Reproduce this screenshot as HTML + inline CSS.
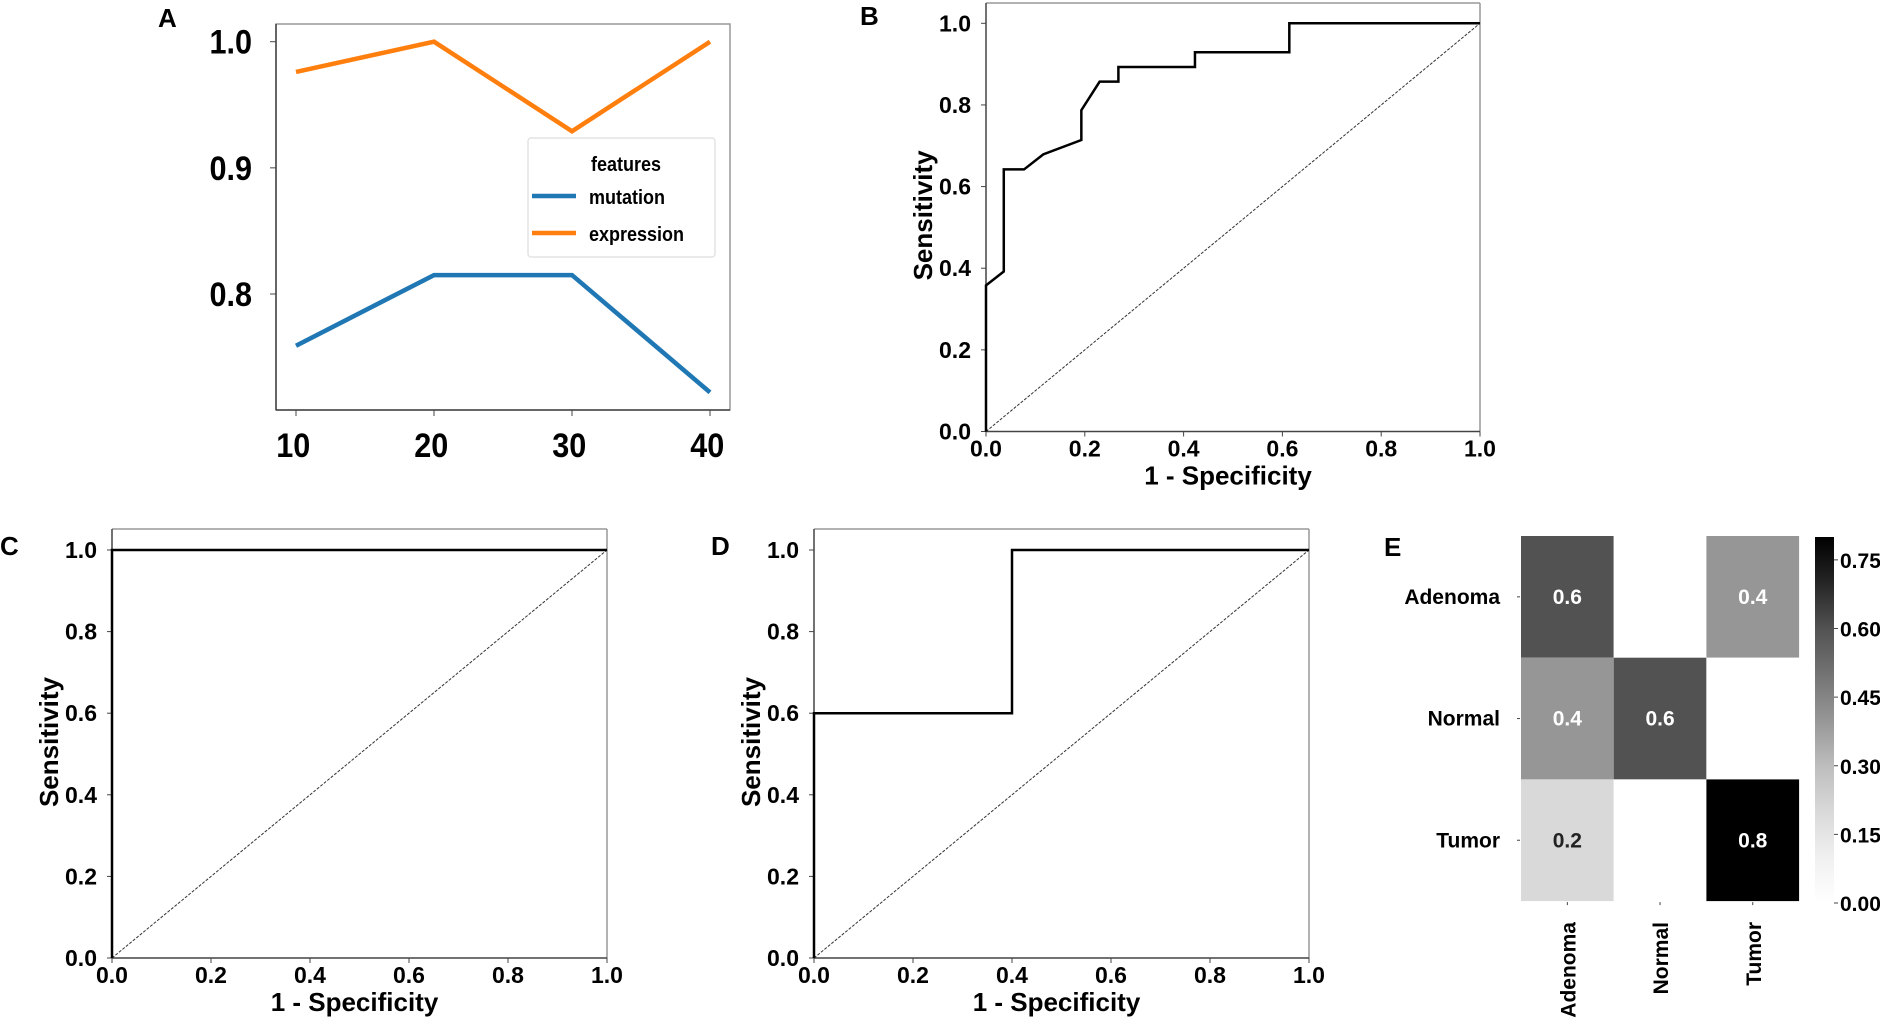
<!DOCTYPE html>
<html><head><meta charset="utf-8"><style>
html,body{margin:0;padding:0;background:#fff;}
svg{display:block;font-family:"Liberation Sans",Arial,sans-serif;font-weight:bold;}
</style></head><body>
<svg id="fig" width="1880" height="1020" viewBox="0 0 1880 1020" xmlns="http://www.w3.org/2000/svg"></svg>
<script>
// Panel A data
const aX = [10, 20, 30, 40];
const aMutation = [0.759, 0.815, 0.815, 0.722];
const aExpression = [0.976, 1.0, 0.929, 1.0];
const aYTicks = [0.8, 0.9, 1.0];
const aYTickLabels = ["0.8", "0.9", "1.0"];
const aXTickLabels = ["10", "20", "30", "40"];
// ROC data
const bFpr = [0, 0, 0.036, 0.036, 0.077, 0.116, 0.193, 0.193, 0.23, 0.268, 0.268, 0.423, 0.423, 0.614, 0.614, 1.0];
const bTpr = [0, 0.358, 0.392, 0.642, 0.642, 0.679, 0.714, 0.787, 0.857, 0.857, 0.893, 0.893, 0.929, 0.929, 1.0, 1.0];
const cFpr = [0, 0, 1.0];
const cTpr = [0, 1.0, 1.0];
const dFpr = [0, 0, 0.4, 0.4, 1.0];
const dTpr = [0, 0.6, 0.6, 1.0, 1.0];
const rocTicks = [0, 0.2, 0.4, 0.6, 0.8, 1.0];
const rocTickLabels = ["0.0", "0.2", "0.4", "0.6", "0.8", "1.0"];
// Heatmap data
const hmRows = ["Adenoma", "Normal", "Tumor"];
const hmCols = ["Adenoma", "Normal", "Tumor"];
const hmValues = [[0.6, 0, 0.4], [0.4, 0.6, 0], [0.2, 0, 0.8]];
const cbTicks = [0, 0.15, 0.30, 0.45, 0.60, 0.75];
const cbTickLabels = ["0.00", "0.15", "0.30", "0.45", "0.60", "0.75"];

const NS = "http://www.w3.org/2000/svg";
const svg = document.getElementById("fig");
function mk(tag, attrs, parent) {
  const e = document.createElementNS(NS, tag);
  for (const k in attrs) e.setAttribute(k, attrs[k]);
  (parent || svg).appendChild(e);
  return e;
}
function txt(s, x, y, size, anchor, parent, extra) {
  const t = mk("text", Object.assign({x: x, y: y, "font-size": size, "text-anchor": anchor || "start", fill: "#000"}, extra || {}), parent);
  t.textContent = s;
  return t;
}
function lin(d0, d1, r0, r1) { return v => r0 + (v - d0) / (d1 - d0) * (r1 - r0); }

// ---------- Panel A ----------
(function () {
  const g = mk("g", {});
  
  
  const L = 276, R = 730, T = 24, B = 410;
  const x = lin(10, 40, 296, 710);
  const y = lin(0.8, 1.0, 294, 41.7);
  const pl = txt("A", 158, 27, 26, "start", g);
  
  
  mk("rect", {x: L, y: T, width: R - L, height: B - T, fill: "none", stroke: "#999", "stroke-width": 1.5}, g);
  mk("line", {x1: L, y1: B, x2: R, y2: B, stroke: "#444", "stroke-width": 1.5}, g);
  mk("line", {x1: L, y1: T, x2: L, y2: B, stroke: "#444", "stroke-width": 1.5}, g);
  aYTicks.forEach((v, i) => {
    mk("line", {x1: L - 6, y1: y(v), x2: L, y2: y(v), stroke: "#444", "stroke-width": 1}, g);
    const t = txt(aYTickLabels[i], 252, y(v) + 12, 34, "end", g, {transform: `translate(252,0) scale(0.9,1) translate(-252,0)`});
    
    
  });
  aX.forEach((v, i) => {
    mk("line", {x1: x(v), y1: B, x2: x(v), y2: B + 6, stroke: "#444", "stroke-width": 1}, g);
    const t = txt(aXTickLabels[i], x(v) - 3, 457, 34, "middle", g, {transform: `translate(${x(v)},0) scale(0.9,1) translate(${-x(v)},0)`});
    
    
  });
  const mp = mk("polyline", {points: aX.map((v, i) => x(v) + "," + y(aMutation[i])).join(" "), fill: "none", stroke: "#1f77b4", "stroke-width": 4.5}, g);
  
  
  const ep = mk("polyline", {points: aX.map((v, i) => x(v) + "," + y(aExpression[i])).join(" "), fill: "none", stroke: "#ff7f0e", "stroke-width": 4.5}, g);
  
  
  // legend
  const lg = mk("g", {}, g);
  
  
  mk("rect", {x: 528, y: 138, width: 187, height: 119, rx: 3, fill: "#fff", stroke: "#ddd", "stroke-width": 1.2}, lg);
  txt("features", 626, 171, 20, "middle", lg, {transform: "translate(626,0) scale(0.9,1) translate(-626,0)"});
  mk("line", {x1: 532, y1: 196, x2: 576, y2: 196, stroke: "#1f77b4", "stroke-width": 4.5}, lg);
  txt("mutation", 589, 204, 20, "start", lg, {transform: "translate(589,0) scale(0.9,1) translate(-589,0)"});
  mk("line", {x1: 532, y1: 233, x2: 576, y2: 233, stroke: "#ff7f0e", "stroke-width": 4.5}, lg);
  txt("expression", 589, 241, 20, "start", lg, {transform: "translate(589,0) scale(0.9,1) translate(-589,0)"});
})();

// ---------- ROC panels ----------
function roc(name, letter, lx, ly, L, R, top, y1, y0, fpr, tpr, ylabX) {
  const g = mk("g", {});
  
  
  const x = lin(0, 1, L, R);
  const y = lin(0, 1, y0, y1);
  const pl = txt(letter, lx, ly, 26, "start", g);
  
  
  mk("line", {x1: L, y1: top, x2: R, y2: top, stroke: "#999", "stroke-width": 1.5}, g);
  mk("line", {x1: R, y1: top, x2: R, y2: y0, stroke: "#999", "stroke-width": 1.5}, g);
  mk("line", {x1: L, y1: y0, x2: R, y2: y0, stroke: "#444", "stroke-width": 1.5}, g);
  mk("line", {x1: L, y1: top, x2: L, y2: y0, stroke: "#444", "stroke-width": 1.5}, g);
  rocTicks.forEach((v, i) => {
    mk("line", {x1: L - 5, y1: y(v), x2: L, y2: y(v), stroke: "#444", "stroke-width": 1}, g);
    const t = txt(rocTickLabels[i], L - 15, y(v) + 8, 23, "end", g);
    
    
    mk("line", {x1: x(v), y1: y0, x2: x(v), y2: y0 + 5, stroke: "#444", "stroke-width": 1}, g);
    const t2 = txt(rocTickLabels[i], x(v), y0 + 25, 23, "middle", g);
    
    
  });
  const xl = txt("1 - Specificity", (L + R) / 2 - 5, y0 + 53, 26, "middle", g);
  
  
  const cy = (y0 + y1) / 2 - 12;
  const yl = txt("Sensitivity", ylabX, cy, 26, "middle", g, {transform: `rotate(-90 ${ylabX} ${cy})`});
  
  
  const dg = mk("line", {x1: x(0), y1: y(0), x2: x(1), y2: y(1), stroke: "#333", "stroke-width": 1, "stroke-dasharray": "3,1.5"}, g);
  
  
  const c = mk("polyline", {points: fpr.map((v, i) => x(v) + "," + y(tpr[i])).join(" "), fill: "none", stroke: "#000", "stroke-width": 2.5}, g);
  
  
}
roc("panel-b-roc", "B", 860, 25, 986, 1480, 3, 23.3, 431.5, bFpr, bTpr, 932);
roc("panel-c-roc", "C", 0, 555, 112, 607, 529, 550, 958, cFpr, cTpr, 58);
roc("panel-d-roc", "D", 711, 555, 814, 1309, 529, 550, 958, dFpr, dTpr, 760);

// ---------- Panel E heatmap ----------
(function () {
  const g = mk("g", {});
  
  
  const pl = txt("E", 1384, 556, 26, "start", g);
  
  
  const x0 = 1521, y0 = 536, cw = 92.7, ch = 121.7, vmax = 0.8;
  const greys = [255, 240, 217, 189, 150, 115, 82, 37, 0];
  function col(v) {
    const t = Math.max(0, Math.min(1, v / vmax)) * 8;
    const i = Math.min(7, Math.floor(t)), f = t - i;
    const c = Math.round(greys[i] + (greys[i + 1] - greys[i]) * f);
    return `rgb(${c},${c},${c})`;
  }
  hmValues.forEach((row, r) => {
    row.forEach((v, c) => {
      const cell = mk("rect", {x: x0 + c * cw, y: y0 + r * ch, width: cw, height: ch, fill: col(v)}, g);
      
      
      if (v > 0) {
        const t = txt(v.toFixed(1), x0 + c * cw + cw / 2, y0 + r * ch + ch / 2 + 7, 21, "middle", g, {fill: v >= 0.3 ? "#fff" : "#222"});
        
        
      }
    });
  });
  hmRows.forEach((s, r) => {
    const yy = y0 + r * ch + ch / 2;
    mk("line", {x1: x0 - 4, y1: yy, x2: x0 - 1, y2: yy, stroke: "#444"}, g);
    const t = txt(s, 1500, yy + 7, 21, "end", g);
    
    
  });
  hmCols.forEach((s, c) => {
    const xx = x0 + c * cw + cw / 2;
    mk("line", {x1: xx, y1: y0 + 3 * ch + 1, x2: xx, y2: y0 + 3 * ch + 4, stroke: "#444"}, g);
    const t = txt(s, xx + 8, 922, 21, "end", g, {transform: `rotate(-90 ${xx + 8} 922)`});
    
    
  });
  // colorbar
  const cbT = 537, cbB = 903, cbL = 1815, cbW = 19;
  const cy = lin(0, vmax, cbB, cbT);
  const defs = mk("defs", {}, g);
  const grad = mk("linearGradient", {id: "cbgrad", x1: 0, y1: 1, x2: 0, y2: 0}, defs);
  greys.forEach((c, i) => mk("stop", {offset: (i / 8), "stop-color": `rgb(${c},${c},${c})`}, grad));
  const cb = mk("rect", {x: cbL, y: cbT, width: cbW, height: cbB - cbT, fill: "url(#cbgrad)"}, g);
  
  
  cbTicks.forEach((v, i) => {
    mk("line", {x1: cbL + cbW, y1: cy(v), x2: cbL + cbW + 4, y2: cy(v), stroke: "#444"}, g);
    const t = txt(cbTickLabels[i], 1840, cy(v) + 8, 21, "start", g);
    
    
  });
})();
</script>
</body></html>
